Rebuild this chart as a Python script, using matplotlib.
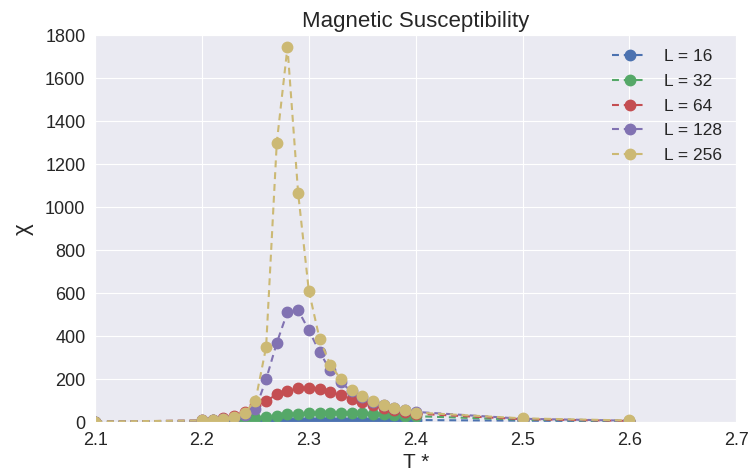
import matplotlib
matplotlib.use('Agg')
import matplotlib.pyplot as plt
import seaborn as sns

sns.set_style('darkgrid')
plt.rcParams['font.family'] = ['Liberation Sans', 'DejaVu Sans']
plt.rcParams['lines.scale_dashes'] = False

# ── Data ──────────────────────────────────────────────────────────────────────
T = [2.1, 2.20, 2.21, 2.22, 2.23, 2.24, 2.25, 2.26, 2.27, 2.28, 2.29, 2.30,
     2.31, 2.32, 2.33, 2.34, 2.35, 2.36, 2.37, 2.38, 2.39, 2.40, 2.5, 2.6]

chi16 = [2, 5, 6, 7, 8, 9, 9, 10, 10, 10, 11, 11,
         11, 11, 11, 11, 11, 11, 11, 10, 10, 10, 7, 4]
chi32 = [2, 6, 8, 10, 13, 17, 20, 25, 29, 36, 38, 42,
         44, 45, 45, 43, 42, 39, 36, 33, 30, 28, 12, 6]
chi64 = [2, 8, 12, 20, 30, 48, 79, 99, 129, 146, 157, 160,
         155, 141, 126, 107, 92, 79, 66, 56, 48, 40, 14, 6]
chi128 = [2, 8, 10, 14, 20, 32, 60, 199, 369, 513, 521, 428,
          327, 242, 185, 143, 115, 95, 78, 66, 56, 48, 16, 7]
chi256 = [3, 8, 10, 15, 25, 45, 99, 349, 1300, 1745, 1065, 611,
          389, 268, 200, 152, 122, 99, 79, 68, 59, 45, 18, 8]

series = [(16, chi16), (32, chi32), (64, chi64), (128, chi128), (256, chi256)]
COLORS = ['#4C72B0', '#55A868', '#C44E52', '#8172B2', '#CCB974']

fig = plt.figure(figsize=(7.49, 4.76), dpi=100)
ax = fig.add_axes([0.127, 0.113, 0.856, 0.813])

for (L, chi), col in zip(series, COLORS):
    ax.plot(T, chi, '--o', color=col, linewidth=1.5, markersize=7.5,
            dashes=(5, 3.5), label=f'L = {L}')

ax.set_xlim(2.1, 2.7)
ax.set_ylim(0, 1800)
ax.set_yticks(range(0, 1801, 200))
ax.tick_params(labelsize=13)
ax.set_title('Magnetic Susceptibility', fontsize=16)
ax.set_xlabel('T *', fontsize=15, labelpad=3)
ax.set_ylabel('χ', fontsize=16, labelpad=8)
ax.legend(loc='upper right', bbox_to_anchor=(1.0, 1.0), fontsize=12.5,
          frameon=False, handlelength=2.0, handletextpad=1.0,
          borderaxespad=0.4, labelspacing=0.55)

plt.savefig('out.png', dpi=100)
